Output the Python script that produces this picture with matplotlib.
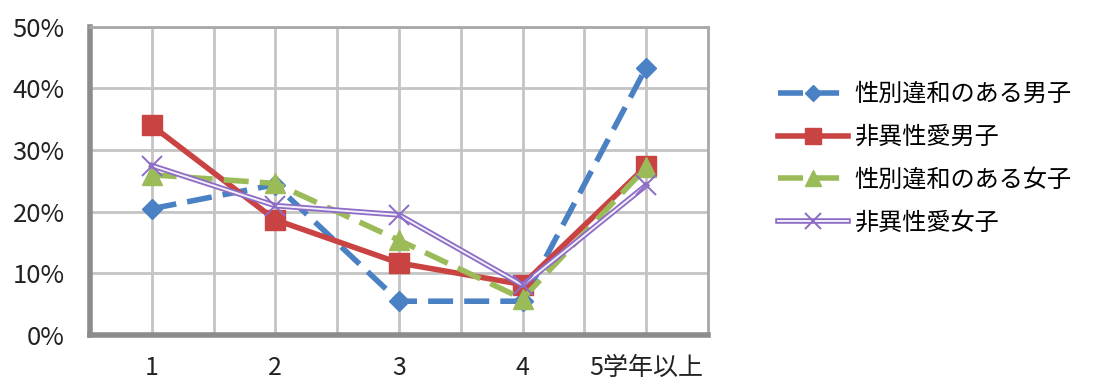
import matplotlib
matplotlib.use("Agg")
import matplotlib.pyplot as plt
import matplotlib.patheffects as pe
from matplotlib.ticker import FixedLocator

plt.rcParams['font.family'] = ['Noto Sans CJK JP', 'DejaVu Sans']

# data (share of respondents, %)
grades = ['1', '2', '3', '4', '5学年以上']
gd_boys = [20.5, 24.4, 5.5, 5.5, 43.4]        # 性別違和のある男子
nonhetero_boys = [34.0, 18.7, 11.7, 8.2, 27.4]  # 非異性愛男子
gd_girls = [26.0, 24.6, 15.4, 5.9, 27.2]       # 性別違和のある女子
nonhetero_girls = [27.5, 21.0, 19.5, 8.1, 24.3]  # 非異性愛女子
labels = ['性別違和のある男子', '非異性愛男子', '性別違和のある女子', '非異性愛女子']

x = list(range(1, len(grades) + 1))

fig = plt.figure(figsize=(10.96, 3.83), dpi=100)
ax = fig.add_axes([0.082, 0.125, 0.564, 0.805])

l1, = ax.plot(x, gd_boys, color='#4a80c4', lw=4, ls=(0, (4.5, 2)),
              marker='D', ms=10, mec='#4a80c4', zorder=3)
l2, = ax.plot(x, nonhetero_boys, color='#c94342', lw=4,
              marker='s', ms=14, mec='#c94342', zorder=4)
l3, = ax.plot(x, gd_girls, color='#9bbb59', lw=4, ls=(0, (4.5, 2)),
              marker='^', ms=14, mec='#9bbb59', zorder=5)
# double thin purple line
l4, = ax.plot(x, nonhetero_girls, color='#f2eefa', lw=1.4, zorder=6,
              path_effects=[pe.Stroke(linewidth=4, foreground='#8c6cc4'), pe.Normal()])
m4, = ax.plot(x, nonhetero_girls, ls='none', marker='x', ms=14, mew=1.4,
              color='#8c6cc4', zorder=7)

ax.set_xlim(0.5, 5.5)
ax.set_ylim(0, 50)
ax.set_xticks(x)
ax.set_xticklabels(grades)
ax.xaxis.set_minor_locator(FixedLocator([1.5, 2.5, 3.5, 4.5]))
ax.set_yticks(range(0, 51, 10))
ax.set_yticklabels([f'{v}%' for v in range(0, 51, 10)])
ax.tick_params(axis='both', which='both', length=0, colors='#222222')
ax.tick_params(axis='y', pad=18, labelsize=18.5)
ax.tick_params(axis='x', pad=14, labelsize=18)
ax.grid(True, which='both', color='#c4c4c4', lw=2)
ax.set_axisbelow(True)

for s in ['top', 'right']:
    ax.spines[s].set_color('#a8a8a8')
    ax.spines[s].set_linewidth(2)
for s in ['left', 'bottom']:
    ax.spines[s].set_color('#8c8c8c')
    ax.spines[s].set_linewidth(4)

fig.legend([l1, l2, l3, (l4, m4)], labels, loc='upper left',
           bbox_to_anchor=(0.69, 0.845), frameon=False, fontsize=17.4,
           handlelength=2.9, handletextpad=0.25, labelspacing=0.7,
           numpoints=1, markerscale=0.8)

fig.savefig('out.png', dpi=100)
